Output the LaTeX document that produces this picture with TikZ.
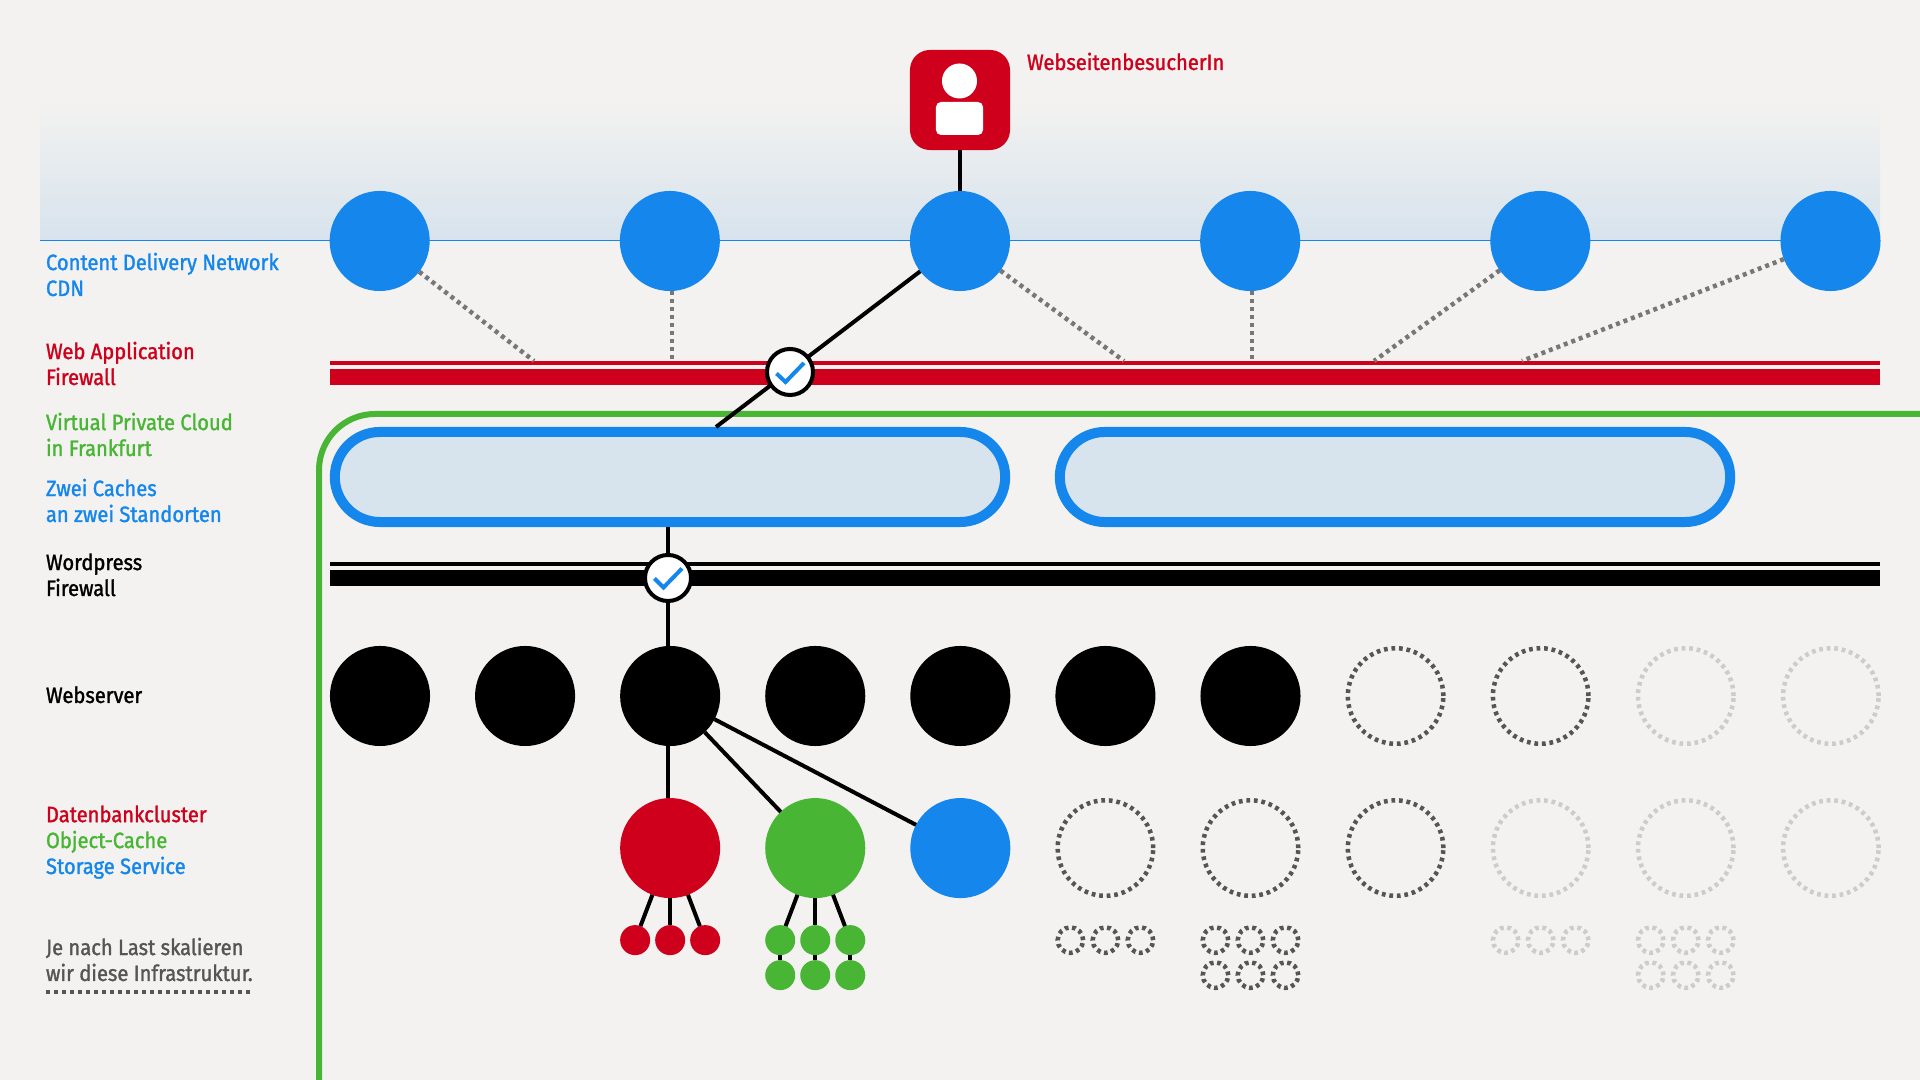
\documentclass[tikz,border=0pt]{standalone}
\usepackage{fontspec}
\setmainfont{Fira Sans}[FakeStretch=0.91,FakeBold=1.4]
\usetikzlibrary{calc}
\definecolor{pagebg}{HTML}{F3F2F0}
\definecolor{cdnblue}{HTML}{1587EC}
\definecolor{bandblue}{HTML}{D7E3ED}
\definecolor{wafred}{HTML}{CF001B}
\definecolor{vpcgreen}{HTML}{48B535}
\definecolor{dotgray}{HTML}{777777}
\definecolor{darkgray}{HTML}{555555}
\definecolor{lightgray}{HTML}{CCCCCC}
\tikzstyle{bignode} = [circle, inner sep=0pt, outer sep=0pt, minimum size=1cm]
\tikzstyle{smallnode} = [circle, inner sep=0pt, outer sep=0pt, minimum size=0.3cm]
\tikzstyle{cdnnode} = [bignode, fill=cdnblue]
\tikzstyle{webnode} = [bignode, fill=black]
\tikzstyle{dbnode} = [bignode, fill=wafred]
\tikzstyle{objnode} = [bignode, fill=vpcgreen]
\tikzstyle{dbsmall} = [smallnode, fill=wafred]
\tikzstyle{objsmall} = [smallnode, fill=vpcgreen]
\tikzstyle{bigspare} = [circle, inner sep=0pt, outer sep=0pt, minimum size=0.955cm, line width=0.045cm, dash pattern=on 0.037cm off 0.0384cm]
\tikzstyle{smallspare} = [circle, inner sep=0pt, outer sep=0pt, minimum size=0.255cm, line width=0.045cm, dash pattern=on 0.037cm off 0.0358cm]
\tikzstyle{cachebox} = [rectangle, rounded corners=0.45cm, inner sep=0pt, outer sep=0.05cm, minimum width=6.7cm, minimum height=0.9cm, draw=cdnblue, fill=bandblue, line width=0.1cm]
\tikzstyle{checknode} = [circle, inner sep=0pt, outer sep=0pt, minimum size=0.46cm, draw=black, fill=white, line width=0.04cm]
\tikzstyle{checkmark} = [cdnblue, line width=0.04cm]
\tikzstyle{link} = [black, line width=0.04cm]
\tikzstyle{dotlink} = [dotgray, line width=0.045cm, dash pattern=on 0.04cm off 0.04cm]
\tikzstyle{sidetext} = [anchor=base west, inner sep=0pt, outer sep=0pt, align=left, font=\fontsize{6.3}{7.37}\selectfont]

\begin{document}
\begin{tikzpicture}[x=0.01cm, y=-0.01cm, node distance=1.45cm]
    \fill [pagebg] (0,0) rectangle (1920,1080);
    \useasboundingbox (0,0) rectangle (1920,1080);
    \shade [top color=pagebg, bottom color=bandblue] (40,100) rectangle (1880,241);
    \draw [cdnblue, line width=0.01cm] (40,241) -- (1880,241);

    % firewall bars
    \fill [wafred] (330,361) rectangle (1880,365);
    \fill [wafred] (330,369) rectangle (1880,385);
    \fill [black] (330,562) rectangle (1880,566);
    \fill [black] (330,570) rectangle (1880,586);

    \coordinate (vpc_low) at (319,1080);
    \coordinate (vpc_right) at (1920,414);
    \draw [vpcgreen, line width=0.06cm, rounded corners=0.56cm] (vpc_low) |- (vpc_right);

    \node (visitor) [rectangle, rounded corners=0.2cm, inner sep=0pt, outer sep=0pt, minimum size=1cm, fill=wafred] at (960,100) {};
    \node (head) [circle, inner sep=0pt, minimum size=0.35cm, fill=white] at (959.5,81) {};
    \node (body) [rectangle, rounded corners=0.05cm, inner sep=0pt, minimum width=0.47cm, minimum height=0.33cm, fill=white] at (959.5,118.5) {};

    \node (cdn3) [cdnnode] at (960,241) {};
    \node (cdn2) [cdnnode, left of=cdn3, xshift=-1.45cm] {};
    \node (cdn1) [cdnnode, left of=cdn2, xshift=-1.45cm] {};
    \node (cdn4) [cdnnode, right of=cdn3, xshift=1.45cm] {};
    \node (cdn5) [cdnnode, right of=cdn4, xshift=1.45cm] {};
    \node (cdn6) [cdnnode, right of=cdn5, xshift=1.45cm] {};

    \coordinate (waf1) at (534,361);
    \coordinate (waf2) at (672,359);
    \coordinate (waf3) at (1124,361);
    \coordinate (waf4) at (1252,361);
    \coordinate (waf5) at (1374,361);
    \coordinate (waf6) at (1522,361);
    \coordinate (cache_hit) at (716,427);

    \node (cache1) [cachebox] at (670,477) {};
    \node (cache2) [cachebox] at (1395,477) {};

    \node (web1) [webnode] at (380,696) {};
    \node (web2) [webnode, right of=web1] {};
    \node (web3) [webnode, right of=web2] {};
    \node (web4) [webnode, right of=web3] {};
    \node (web5) [webnode, right of=web4] {};
    \node (web6) [webnode, right of=web5] {};
    \node (web7) [webnode, right of=web6] {};
    \node (web8) [bigspare, draw=darkgray, right of=web7] {};
    \node (web9) [bigspare, draw=darkgray, right of=web8] {};
    \node (web10) [bigspare, draw=lightgray, right of=web9] {};
    \node (web11) [bigspare, draw=lightgray, right of=web10] {};

    \node (db) [dbnode, below of=web3, yshift=-0.07cm] {};
    \node (obj) [objnode, right of=db] {};
    \node (storage) [cdnnode, right of=obj] {};
    \node (spare1) [bigspare, draw=darkgray, right of=storage] {};
    \node (spare2) [bigspare, draw=darkgray, right of=spare1] {};
    \node (spare3) [bigspare, draw=darkgray, right of=spare2] {};
    \node (spare4) [bigspare, draw=lightgray, right of=spare3] {};
    \node (spare5) [bigspare, draw=lightgray, right of=spare4] {};
    \node (spare6) [bigspare, draw=lightgray, right of=spare5] {};

    \begin{scope}[node distance=0.35cm]
    \node (db_b) [dbsmall, below of=db, yshift=-0.57cm] {};
    \node (db_a) [dbsmall, left of=db_b] {};
    \node (db_c) [dbsmall, right of=db_b] {};

    \node (obj_b) [objsmall, below of=obj, yshift=-0.57cm] {};
    \node (obj_a) [objsmall, left of=obj_b] {};
    \node (obj_c) [objsmall, right of=obj_b] {};
    \node (obj_e) [objsmall, below of=obj_b] {};
    \node (obj_d) [objsmall, left of=obj_e] {};
    \node (obj_f) [objsmall, right of=obj_e] {};

    \node (s1_b) [smallspare, draw=darkgray, below of=spare1, yshift=-0.57cm] {};
    \node (s1_a) [smallspare, draw=darkgray, left of=s1_b] {};
    \node (s1_c) [smallspare, draw=darkgray, right of=s1_b] {};

    \node (s2_b) [smallspare, draw=darkgray, below of=spare2, yshift=-0.57cm] {};
    \node (s2_a) [smallspare, draw=darkgray, left of=s2_b] {};
    \node (s2_c) [smallspare, draw=darkgray, right of=s2_b] {};
    \node (s2_e) [smallspare, draw=darkgray, below of=s2_b] {};
    \node (s2_d) [smallspare, draw=darkgray, left of=s2_e] {};
    \node (s2_f) [smallspare, draw=darkgray, right of=s2_e] {};

    \node (s4_b) [smallspare, draw=lightgray, below of=spare4, yshift=-0.57cm] {};
    \node (s4_a) [smallspare, draw=lightgray, left of=s4_b] {};
    \node (s4_c) [smallspare, draw=lightgray, right of=s4_b] {};

    \node (s5_b) [smallspare, draw=lightgray, below of=spare5, yshift=-0.57cm] {};
    \node (s5_a) [smallspare, draw=lightgray, left of=s5_b] {};
    \node (s5_c) [smallspare, draw=lightgray, right of=s5_b] {};
    \node (s5_e) [smallspare, draw=lightgray, below of=s5_b] {};
    \node (s5_d) [smallspare, draw=lightgray, left of=s5_e] {};
    \node (s5_f) [smallspare, draw=lightgray, right of=s5_e] {};
    \end{scope}

    \draw [link] (visitor) -- (cdn3);
    \draw [link] (cdn3) -- (cache_hit);

    \draw [dotlink] (cdn1) -- (waf1);
    \draw [dotlink] (waf2 |- cdn2.south) -- (waf2);
    \draw [dotlink] (cdn3) -- (waf3);
    \draw [dotlink] (waf4 |- cdn4.south) -- (waf4);
    \draw [dotlink] (cdn5) -- (waf5);
    \draw [dotlink] (cdn6) -- (waf6);

    \node (waf_check) [checknode] at (790,372) {};
    \draw [checkmark] ($(waf_check)+(-13.5,1.5)$) -- ($(waf_check)+(-4.5,10)$) -- ($(waf_check)+(14,-9)$);
    \node (wp_check) [checknode] at (668,578) {};
    \draw [checkmark] ($(wp_check)+(-13.5,0.5)$) -- ($(wp_check)+(-4.5,9.5)$) -- ($(wp_check)+(14,-9.5)$);

    \draw [link] (wp_check |- cache1.south) -- (wp_check);
    \draw [link] (wp_check) -- (wp_check |- web3.north);
    \draw [link] (wp_check |- web3.south) -- (wp_check |- db.north);
    \draw [link] (web3) -- (obj);
    \draw [link] (web3) -- (storage);

    \draw [link] (db) -- (db_a);
    \draw [link] (db) -- (db_b);
    \draw [link] (db) -- (db_c);
    \draw [link] (obj) -- (obj_a);
    \draw [link] (obj) -- (obj_b);
    \draw [link] (obj) -- (obj_c);
    \draw [link] (obj_a) -- (obj_d);
    \draw [link] (obj_b) -- (obj_e);
    \draw [link] (obj_c) -- (obj_f);

    \node (visitor_text) [sidetext, text=wafred] at (1027,70) {WebseitenbesucherIn};
    \node (cdn_text) [sidetext, text=cdnblue] at (46,296) {Content Delivery Network\\CDN};
    \node (waf_text) [sidetext, text=wafred] at (46,385) {Web Application\\Firewall};
    \node (vpc_text) [sidetext, text=vpcgreen] at (46,456) {Virtual Private Cloud\\in Frankfurt};
    \node (cache_text) [sidetext, text=cdnblue] at (46,522) {Zwei Caches\\an zwei Standorten};
    \node (wp_text) [sidetext, text=black] at (46,596) {Wordpress\\Firewall};
    \node (web_text) [sidetext, text=black] at (46,703) {Webserver};
    \node (db_text) [sidetext] at (46,874) {\textcolor{wafred}{Datenbankcluster}\\\textcolor{vpcgreen}{Object-Cache}\\\textcolor{cdnblue}{Storage Service}};
    \node (load_text) [sidetext, text=darkgray] at (46,981) {Je nach Last skalieren\\wir diese Infrastruktur.};

    \coordinate (rule_left) at (46,992);
    \coordinate (rule_right) at (252,992);
    \draw [darkgray, line width=0.035cm, dash pattern=on 0.04cm off 0.04cm] (rule_left) -- (rule_right);

\end{tikzpicture}
\end{document}
